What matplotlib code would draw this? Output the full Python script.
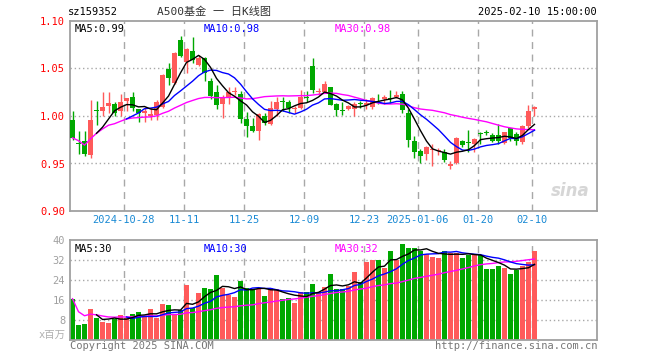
import matplotlib
matplotlib.use("Agg")
import matplotlib.pyplot as plt
import numpy as np
import pandas as pd

# daily candles for sz159352, 2024-10-15 .. 2025-02-10 (78 trading days)
opens = [0.996, 0.972, 0.974, 0.959, 1.006, 1.005, 1.011, 1.013, 1.005, 1.016,
         1.020, 1.007, 1.003, 1.000, 1.001, 1.010, 1.050, 1.035, 1.080, 1.057,
         1.068, 1.054, 1.061, 1.037, 1.025, 1.013, 1.020, 1.025, 1.023, 0.997,
         0.990, 0.984, 1.000, 0.992, 1.007, 1.015, 1.015, 1.007, 1.008, 1.020,
         1.053, 1.025, 1.025, 1.031, 1.013, 1.006, 1.007, 1.007, 1.013, 1.012,
         1.010, 1.019, 1.018, 1.019, 1.020, 1.023, 1.003, 0.974, 0.963, 0.960,
         0.9645, 0.963, 0.962, 0.947, 0.951, 0.974, 0.972, 0.971, 0.9815, 0.9825,
         0.9805, 0.980, 0.972, 0.9875, 0.9815, 0.9725, 0.9895, 1.0075]
highs = [1.005, 0.984, 0.984, 1.017, 1.016, 1.025, 1.025, 1.015, 1.023, 1.019,
         1.025, 1.007, 1.009, 1.008, 1.017, 1.044, 1.056, 1.067, 1.084, 1.072,
         1.083, 1.064, 1.062, 1.040, 1.033, 1.022, 1.030, 1.030, 1.026, 1.004,
         0.998, 1.003, 1.003, 1.016, 1.020, 1.020, 1.017, 1.011, 1.027, 1.026,
         1.061, 1.029, 1.037, 1.031, 1.014, 1.015, 1.012, 1.015, 1.016, 1.018,
         1.020, 1.023, 1.022, 1.027, 1.026, 1.026, 1.007, 0.979, 0.965, 0.968,
         0.971, 0.966, 0.965, 0.953, 0.978, 0.975, 0.985, 0.977, 0.9835, 0.985,
         0.982, 0.992, 0.9835, 0.9875, 0.983, 0.990, 1.0115, 1.010]
lows = [0.975, 0.960, 0.958, 0.956, 0.991, 1.000, 1.003, 1.000, 1.000, 1.005,
        1.005, 0.994, 0.994, 0.996, 0.996, 1.008, 1.033, 1.034, 1.062, 1.045,
        1.056, 1.053, 1.037, 1.018, 1.007, 0.998, 1.013, 1.022, 0.993, 0.978,
        0.983, 0.975, 0.991, 0.991, 1.000, 1.005, 1.003, 1.003, 1.007, 1.015,
        1.024, 1.022, 1.024, 1.012, 1.000, 1.001, 1.006, 1.000, 1.008, 1.007,
        1.007, 1.013, 1.013, 1.014, 1.019, 1.003, 0.967, 0.956, 0.951, 0.954,
        0.9476, 0.959, 0.952, 0.944, 0.949, 0.967, 0.962, 0.962, 0.970, 0.9795,
        0.9725, 0.970, 0.971, 0.974, 0.969, 0.971, 0.9875, 1.000]
closes = [0.977, 0.971, 0.960, 0.996, 1.005, 1.009, 1.014, 1.003, 1.015, 1.019,
          1.008, 1.003, 1.005, 1.002, 1.015, 1.043, 1.040, 1.066, 1.063, 1.070,
          1.059, 1.061, 1.045, 1.021, 1.012, 1.020, 1.025, 1.026, 0.997, 0.990,
          0.984, 1.002, 0.993, 1.008, 1.015, 1.0145, 1.008, 1.008, 1.020, 1.019,
          1.027, 1.026, 1.034, 1.012, 1.006, 1.0055, 1.011, 1.013, 1.0125, 1.014,
          1.019, 1.0185, 1.020, 1.018, 1.022, 1.006, 0.975, 0.962, 0.958, 0.967,
          0.965, 0.9635, 0.954, 0.950, 0.977, 0.970, 0.9715, 0.976, 0.981, 0.982,
          0.9735, 0.974, 0.983, 0.977, 0.974, 0.990, 1.005, 1.010]
# volume in millions
volumes = [16.5, 6.1, 6.5, 12.3, 8.9, 7.3, 6.9, 8.5, 10.1, 8.9,
           10.5, 11.3, 9.3, 12.5, 8.7, 14.5, 14.1, 10.5, 12.0, 22.1,
           12.7, 18.9, 20.9, 20.5, 26.1, 20.9, 18.1, 17.3, 23.7, 20.9,
           20.5, 20.5, 17.7, 20.9, 20.5, 16.5, 16.9, 14.9, 19.3, 19.3,
           22.5, 19.3, 21.3, 26.5, 20.5, 20.5, 21.7, 27.3, 23.3, 31.3,
           32.1, 32.1, 28.9, 35.7, 32.1, 38.5, 36.9, 36.9, 35.7, 34.5,
           33.3, 32.9, 35.7, 34.9, 34.9, 32.9, 34.1, 34.1, 34.1, 28.5,
           28.5, 29.7, 28.9, 26.5, 28.1, 29.7, 31.3, 35.7]

tick_idx = [9, 19, 29, 39, 49, 58, 68, 77]
tick_labels = ["2024-10-28", "11-11", "11-25", "12-09", "12-23",
               "2025-01-06", "01-20", "02-10"]

RED = "#ff5a5a"
GREEN = "#00a800"
GRID = "#a8a8a8"
FRAME = "#a0a0a0"
MONO = ["DejaVu Sans Mono", "Noto Sans CJK SC"]
FS = 7.5


def trunc(v, nd):
    # the sina labels cut the value instead of rounding it
    f = 10 ** nd
    return f"{np.floor(v * f + 1e-9) / f:.{nd}f}"


df = pd.DataFrame({"o": opens, "h": highs, "l": lows, "c": closes, "v": volumes})
x = np.arange(len(df))
up = df["c"] >= df["o"]
colors = np.where(up, RED, GREEN)
# strict window for MA5/MA10, expanding mean for MA30
ma5 = df["c"].rolling(5).mean()
ma10 = df["c"].rolling(10).mean()
ma30 = df["c"].rolling(30, min_periods=1).mean()
vma5 = df["v"].rolling(5).mean()
vma10 = df["v"].rolling(10).mean()
vma30 = df["v"].rolling(30, min_periods=1).mean()

fig = plt.figure(figsize=(6.6, 3.6), dpi=100)
ax = fig.add_axes([70 / 660, 1 - 211 / 360, 527 / 660, 190 / 360])
axv = fig.add_axes([70 / 660, 1 - 340 / 360, 527 / 660, 100 / 360])

xl = (-0.42, 87.42)
vpos = [i - 0.42 for i in tick_idx]

for a in (ax, axv):
    a.set_xlim(*xl)
    for s in a.spines.values():
        s.set_color(FRAME)
        s.set_linewidth(1.3)
    a.tick_params(length=0, labelsize=FS)
    for p in vpos:
        a.axvline(p, color=GRID, lw=1, ls=(0, (5, 4)), zorder=0)

# price panel
ax.set_ylim(0.90, 1.10)
for yv in (0.95, 1.00, 1.05):
    ax.axhline(yv, color=GRID, lw=1, ls=(0, (1, 2)), zorder=0)
body_bottom = np.minimum(df["o"], df["c"])
body_h = np.maximum(np.abs(df["c"] - df["o"]), 0.0008)
ax.vlines(x, df["l"], df["h"], colors=colors, lw=1, zorder=2)
ax.bar(x, body_h, bottom=body_bottom, width=0.83, color=colors, zorder=3)
ax.plot(x, ma30, color="#ff00ff", lw=1, zorder=4)
ax.plot(x, ma10, color="#0000ff", lw=1, zorder=4)
ax.plot(x, ma5, color="black", lw=1, zorder=4)

ax.set_yticks([0.90, 0.95, 1.00, 1.05, 1.10])
ax.set_yticklabels(["0.90", "0.95", "1.00", "1.05", "1.10"],
                   color="#ff0000", family=MONO)
ax.set_xticks(vpos)
ax.set_xticklabels(tick_labels, color="#1a8ad4", family=MONO)
ax.tick_params(axis="x", pad=3)

ax.text(0.008, 0.985, "MA5:" + trunc(ma5.iloc[-1], 2), transform=ax.transAxes,
        va="top", ha="left", fontsize=FS, family=MONO, color="black")
ax.text(0.254, 0.985, "MA10:" + trunc(ma10.iloc[-1], 2), transform=ax.transAxes,
        va="top", ha="left", fontsize=FS, family=MONO, color="#0000ff")
ax.text(0.503, 0.985, "MA30:" + trunc(ma30.iloc[-1], 2), transform=ax.transAxes,
        va="top", ha="left", fontsize=FS, family=MONO, color="#ff00ff")
ax.text(0.985, 0.06, "sina", transform=ax.transAxes, ha="right", va="bottom",
        fontsize=12, style="italic", weight="bold", color="#d6d6d6",
        family="DejaVu Sans", zorder=1)

# volume panel
axv.set_ylim(0, 40)
for yv in (8, 16, 24, 32):
    axv.axhline(yv, color=GRID, lw=1, ls=(0, (1, 2)), zorder=0)
axv.bar(x, df["v"], width=0.83, color=colors, zorder=2)
axv.plot(x, vma30, color="#ff00ff", lw=1, zorder=4)
axv.plot(x, vma10, color="#0000ff", lw=1, zorder=4)
axv.plot(x, vma5, color="black", lw=1, zorder=4)
axv.set_xticks([])
axv.set_yticks([0, 8, 16, 24, 32, 40])
axv.set_yticklabels(["", "8", "16", "24", "32", "40"], color="#a0a0a0",
                    family=MONO)
axv.text(-0.008, 0.0, "x百万", transform=axv.transAxes, ha="right", va="bottom",
         fontsize=FS, family=MONO, color="#b0b0b0")

axv.text(0.008, 0.96, f"MA5:{int(vma5.iloc[-1])}", transform=axv.transAxes,
         va="top", ha="left", fontsize=FS, family=MONO, color="black")
axv.text(0.254, 0.96, f"MA10:{int(vma10.iloc[-1])}", transform=axv.transAxes,
         va="top", ha="left", fontsize=FS, family=MONO, color="#0000ff")
axv.text(0.503, 0.96, f"MA30:{int(vma30.iloc[-1])}", transform=axv.transAxes,
         va="top", ha="left", fontsize=FS, family=MONO, color="#ff00ff")

# header / footer
fig.text(68 / 660, 1 - 12 / 360, "sz159352", ha="left", va="center",
         fontsize=FS, family=MONO, color="black")
fig.text(214 / 660, 1 - 12 / 360, "A500基金 一 日K线图", ha="center",
         va="center", fontsize=8, family=MONO, color="#333333")
fig.text(597 / 660, 1 - 12 / 360, "2025-02-10 15:00:00", ha="right",
         va="center", fontsize=FS, family=MONO, color="black")
fig.text(70 / 660, 1 - 346 / 360, "Copyright 2025 SINA.COM", ha="left",
         va="center", fontsize=FS, family=MONO, color="#777777")
fig.text(597 / 660, 1 - 346 / 360, "http://finance.sina.com.cn", ha="right",
         va="center", fontsize=FS, family=MONO, color="#777777")

fig.savefig("out.png", dpi=100, facecolor="white")
